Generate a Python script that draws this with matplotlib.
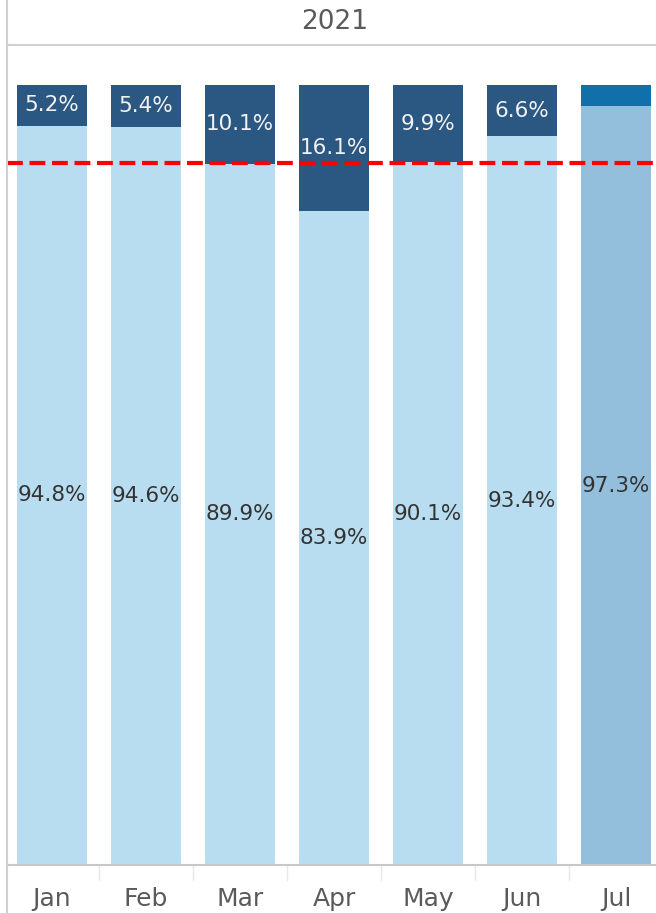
import numpy as np
import matplotlib.pyplot as plt
from matplotlib.lines import Line2D
import matplotlib.transforms as mtransforms

months = ['Jan', 'Feb', 'Mar', 'Apr', 'May', 'Jun', 'Jul']
met = [94.8, 94.6, 89.9, 83.9, 90.1, 93.4, 97.3]
missed = [5.2, 5.4, 10.1, 16.1, 9.9, 6.6, 2.7]
target = 90
year = '2021'

light = ['#B9DDF0'] * 6 + ['#93BFDD']
dark = ['#2B5783'] * 6 + ['#1170AA']

ind = np.arange(len(months))
width = 0.745

fig = plt.figure(figsize=(6.56, 9.13), dpi=100)
ax = fig.add_axes([7 / 656, 48 / 913, 649 / 656, 820 / 913])

ax.bar(ind, met, width, color=light)
ax.bar(ind, missed, width, bottom=met, color=dark)

# labels (the small Jul segment has none)
for i in ind:
    ax.text(i, met[i] / 2, '%.1f%%' % met[i], ha='center', va='center',
            fontsize=15.5, color='#333333')
    if missed[i] >= 5:
        ax.text(i, met[i] + missed[i] / 2, '%.1f%%' % missed[i], ha='center',
                va='center', fontsize=15.5, color='#F2F2F2')

ax.axhline(target, color='#FF0000', lw=3, dashes=(3.8, 1.6), zorder=5)

ax.set_xlim(-0.4787, 6.4255)
ax.set_ylim(0, 105.13)
ax.set_yticks([])
ax.set_xticks(ind)
ax.set_xticklabels(months, fontsize=18, color='#5A5A5A')
ax.tick_params(axis='x', length=0, pad=16)

for s in ['left', 'right']:
    ax.spines[s].set_visible(False)
ax.spines['top'].set_color('#D0D0D0')
ax.spines['top'].set_linewidth(1.5)
ax.spines['bottom'].set_color('#C8C8C8')
ax.spines['bottom'].set_linewidth(1.5)

# faint separators between month labels
trans = mtransforms.blended_transform_factory(ax.transData, ax.transAxes)
for k in ind[:-1]:
    ax.plot([k + 0.5, k + 0.5], [0, -0.018], color='#E8E8E8', lw=1,
            transform=trans, clip_on=False)

# left border of the panel
fig.add_artist(Line2D([6.5 / 656, 6.5 / 656], [0, 1], color='#D0D0D0', lw=1.5,
                      transform=fig.transFigure))

fig.text(335 / 656, 1 - 22 / 913, year, ha='center', va='center',
         fontsize=19, color='#5A5A5A')

fig.savefig('out.png', dpi=100)
